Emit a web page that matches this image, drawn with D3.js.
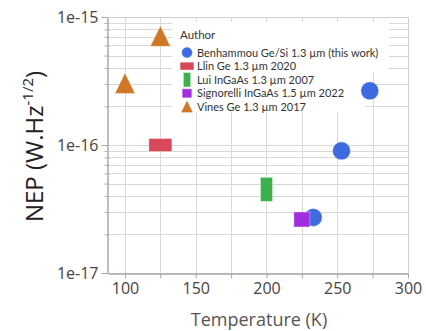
<!DOCTYPE html>
<html><head><meta charset="utf-8">
<script src="https://cdn.jsdelivr.net/npm/d3@7"></script>
<style>
html,body{margin:0;padding:0;background:#fff;}
svg{display:block;font-family:"Open Sans",sans-serif;}
</style></head>
<body><svg id="c" width="426" height="331"></svg>
<script>
// ---- data ----
const seriesNames = [
  "Benhammou Ge/Si 1.3 µm (this work)",
  "Llin Ge 1.3 µm 2020",
  "Lui InGaAs 1.3 µm 2007",
  "Signorelli InGaAs 1.5 µm 2022",
  "Vines Ge 1.3 µm 2017"
];
const benhammouT = [233, 253, 273];
const benhammouNEP = [2.72e-17, 9e-17, 2.65e-16];
const llinT = [125];
const llinNEP = [1e-16];
const luiT = [200];
const luiNEP = [4.5e-17];
const signorelliT = [225];
const signorelliNEP = [2.62e-17];
const vinesT = [100, 125];
const vinesNEP = [3e-16, 7e-16];
const xTickValues = [100, 150, 200, 250, 300];
const xMinorTicks = [125, 175, 225, 275];
const yTickValues = [1e-17, 1e-16, 1e-15];
const yTickLabels = ["1e-17", "1e-16", "1e-15"];
const colors = ["#3f6be0", "#d9485a", "#3cb14b", "#a12fe0", "#cf7726"];
const shapes = ["circle", "wide", "tall", "square", "triangle"];

const series = [
  {T: benhammouT, V: benhammouNEP},
  {T: llinT, V: llinNEP},
  {T: luiT, V: luiNEP},
  {T: signorelliT, V: signorelliNEP},
  {T: vinesT, V: vinesNEP}
];

// ---- layout ----
const L = 108, R = 408, T = 17, B = 273;
const svg = d3.select("#c");
const x = d3.scaleLinear().domain([88, 300]).range([L, R]);
const y = d3.scaleLog().domain([1e-17, 1e-15]).range([B, T]);

const yMinor = [];
[1e-17, 1e-16].forEach(d => { for (let k = 2; k <= 9; k++) yMinor.push(d * k); });
const xGrid = xTickValues.concat(xMinorTicks);
const yGrid = yTickValues.concat(yMinor);

const grid = svg.append("g").attr("stroke", "#d8d8d8").attr("stroke-width", 1);
grid.selectAll("line.v").data(xGrid).join("line")
  .attr("x1", d => Math.round(x(d)) + 0.5).attr("x2", d => Math.round(x(d)) + 0.5)
  .attr("y1", T).attr("y2", B);
grid.selectAll("line.h").data(yGrid).join("line")
  .attr("y1", d => Math.round(y(d)) + 0.5).attr("y2", d => Math.round(y(d)) + 0.5)
  .attr("x1", L).attr("x2", R);

// frame (top and right)
svg.append("path").attr("d", `M${L},${T + 0.5}H${R + 0.5}V${B}`)
  .attr("fill", "none").attr("stroke", "#cfcfcf");

// legend background
svg.append("path").attr("d", "M172,22H389V72H365V112H172Z").attr("fill", "#fff");

// axes
const axisColor = "#a8a8a8", textColor = "#444";
function styleAxis(g) {
  g.select(".domain").attr("stroke", axisColor);
  g.selectAll(".tick line").attr("stroke", axisColor);
  g.selectAll(".tick text").attr("fill", textColor).attr("font-size", 16)
    .attr("font-family", "Open Sans, sans-serif");
}
const xAxis = svg.append("g").attr("transform", `translate(0,${B + 0.5})`)
  .call(d3.axisBottom(x).tickValues(xTickValues).tickSize(5).tickPadding(4).tickSizeOuter(0));
styleAxis(xAxis);
const xAxisMinor = svg.append("g").attr("transform", `translate(0,${B + 0.5})`)
  .call(d3.axisBottom(x).tickValues(xMinorTicks).tickSize(5).tickFormat("").tickSizeOuter(0));
styleAxis(xAxisMinor);

const yAxis = svg.append("g").attr("transform", `translate(${L - 0.5},0)`)
  .call(d3.axisLeft(y).tickValues(yTickValues).tickSize(6).tickPadding(3)
    .tickFormat((d, i) => yTickLabels[i]).tickSizeOuter(0));
styleAxis(yAxis);
const yAxisMinor = svg.append("g").attr("transform", `translate(${L - 0.5},0)`)
  .call(d3.axisLeft(y).tickValues(yMinor).tickSize(3).tickFormat("").tickSizeOuter(0));
styleAxis(yAxisMinor);

// axis titles
svg.append("text").attr("x", 259).attr("y", 326).attr("text-anchor", "middle")
  .attr("font-size", 18).attr("fill", "#555").text("Temperature (K)");
const yt = svg.append("text").attr("transform", "translate(43,146.5) rotate(-90)")
  .attr("text-anchor", "middle").attr("font-size", 24).attr("fill", "#222");
yt.append("tspan").text("NEP (W.Hz");
yt.append("tspan").attr("dy", -10).attr("font-size", 15).text("-1/2");
yt.append("tspan").attr("dy", 10).text(")");

// markers
function drawShape(g, shape, color, s) {
  if (shape === "circle") {
    g.append("circle").attr("r", 9 * s).attr("fill", color);
  } else if (shape === "wide") {
    g.append("rect").attr("x", -11.5 * s).attr("y", -6.5 * s).attr("width", 23 * s).attr("height", 13 * s).attr("fill", color);
  } else if (shape === "tall") {
    g.append("rect").attr("x", -6 * s).attr("y", -12 * s).attr("width", 12 * s).attr("height", 24 * s).attr("fill", color);
  } else if (shape === "square") {
    g.append("rect").attr("x", -8 * s).attr("y", -7.5 * s).attr("width", 16 * s).attr("height", 15 * s).attr("fill", color);
  } else {
    g.append("path").attr("d", `M0,${-11 * s}L${10 * s},${9.5 * s}L${-10 * s},${9.5 * s}Z`).attr("fill", color);
  }
  g.selectAll("*").attr("stroke", "rgba(255,255,255,0.35)").attr("stroke-width", 1);
}
series.forEach((sr, i) => {
  sr.T.forEach((t, j) => {
    const g = svg.append("g").attr("transform", `translate(${x(t)},${y(sr.V[j])})`);
    drawShape(g, shapes[i], colors[i], 1);
  });
});

// legend
const lg = svg.append("g").attr("font-family", "Lato, sans-serif");
lg.append("text").attr("x", 180).attr("y", 39).attr("font-size", 11.5).attr("fill", "#333").text("Author");
seriesNames.forEach((n, i) => {
  const cy = 52.5 + 13.6 * i;
  const g = lg.append("g").attr("transform", `translate(187,${cy})`);
  drawShape(g, shapes[i], colors[i], 0.6);
  lg.append("text").attr("x", 197).attr("y", cy + 4.1).attr("font-size", 11).attr("fill", "#333").text(n);
});
</script></body></html>
